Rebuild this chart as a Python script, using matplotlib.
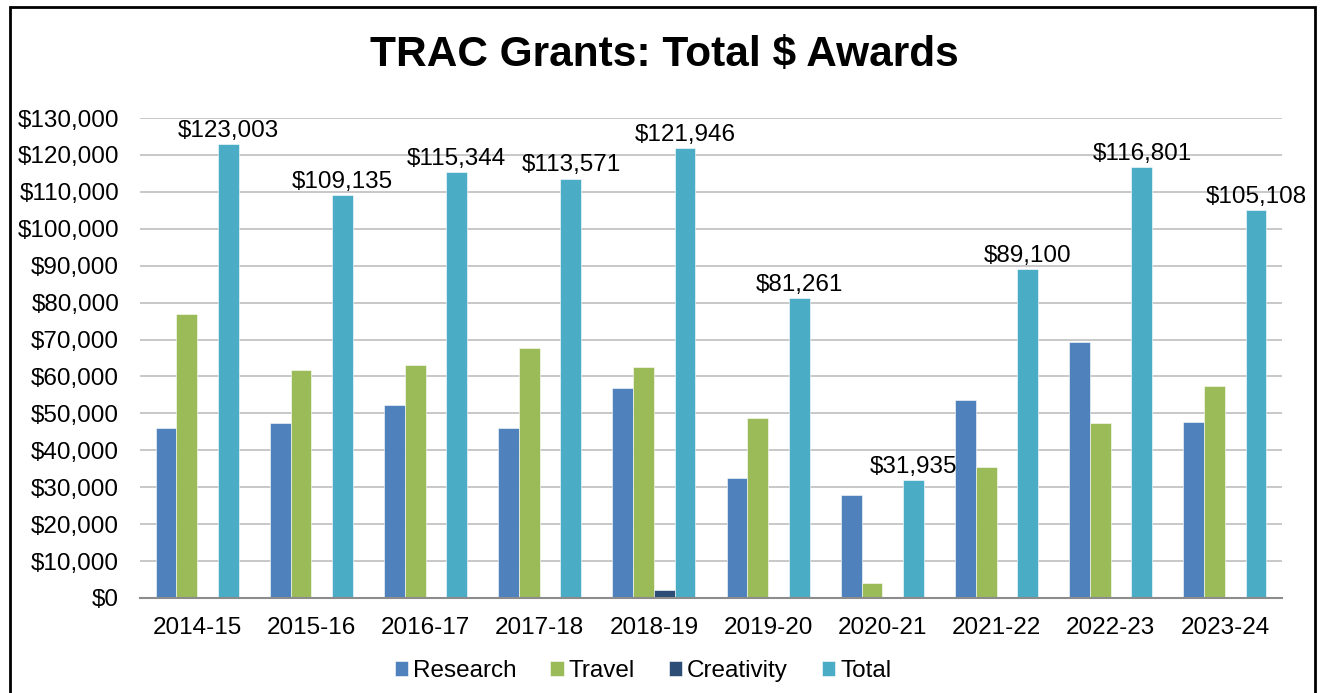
import numpy as np
import matplotlib
matplotlib.use('Agg')
import matplotlib.pyplot as plt
from matplotlib.patches import Rectangle
from matplotlib.ticker import FuncFormatter

plt.rcParams['font.family'] = ['Liberation Sans', 'DejaVu Sans']

years = ['2014-15', '2015-16', '2016-17', '2017-18', '2018-19',
         '2019-20', '2020-21', '2021-22', '2022-23', '2023-24']
research = [46000, 47300, 52300, 46000, 57000, 32600, 27900, 53600, 69300, 47700]
travel = [77000, 61800, 63000, 67600, 62600, 48700, 4000, 35500, 47500, 57400]
creativity = [0, 0, 0, 0, 2300, 0, 0, 0, 0, 0]
total = [123003, 109135, 115344, 113571, 121946, 81261, 31935, 89100, 116801, 105108]

colors = ['#4F81BD', '#9BBB59', '#2C4D75', '#4BACC6']
names = ['Research', 'Travel', 'Creativity', 'Total']

fig = plt.figure(figsize=(13.21, 6.93), dpi=100)
W, H = 1321, 693
ax = fig.add_axes([140 / W, 1 - 598 / H, (1282 - 140) / W, (598 - 118) / H])

x = np.arange(len(years))
w = 0.182
series = [research, travel, creativity, total]
for i, (vals, c, n) in enumerate(zip(series, colors, names)):
    bars = ax.bar(x + (i - 1.5) * w, vals, w, color=c, label=n,
                  edgecolor='white', linewidth=0.4, zorder=3)
    if n == 'Total':
        # value labels over the total bars
        for b, v in zip(bars, vals):
            ax.text(b.get_x() + b.get_width() / 2, v + 600, '${:,}'.format(v),
                    ha='center', va='bottom', fontsize=17.5)

ax.set_xlim(-0.5, len(years) - 0.5)
ax.set_ylim(0, 130000)
ax.set_yticks(np.arange(0, 130001, 10000))
ax.yaxis.set_major_formatter(FuncFormatter(lambda v, p: '${:,.0f}'.format(v)))
ax.set_xticks(x)
ax.set_xticklabels(years)
ax.tick_params(axis='both', length=0, labelsize=17.5)
ax.tick_params(axis='y', pad=15)
ax.tick_params(axis='x', pad=14)
ax.grid(axis='y', color='#BFBFBF', linewidth=1.2, zorder=0)
for s in ['top', 'right', 'left']:
    ax.spines[s].set_visible(False)
ax.spines['bottom'].set_color('#8C8C8C')
ax.spines['bottom'].set_linewidth(1.5)
ax.spines['bottom'].set_zorder(4)

fig.text(664 / W, 1 - 55 / H, 'TRAC Grants: Total $ Awards', ha='center', va='center',
         fontsize=30.5, fontweight='bold')

fig.legend(loc='center', bbox_to_anchor=(643 / W, 1 - 671 / H), ncol=4, frameon=False,
           fontsize=17.5, handlelength=0.55, handleheight=0.55, handletextpad=0.2,
           columnspacing=1.4)

# outer frame
fig.patches.append(Rectangle((10 / W, -0.01), (1315 - 10) / W, 1 - 7 / H + 0.01,
                             transform=fig.transFigure, fill=False,
                             edgecolor='black', linewidth=2))

fig.savefig('out.png', dpi=100)
